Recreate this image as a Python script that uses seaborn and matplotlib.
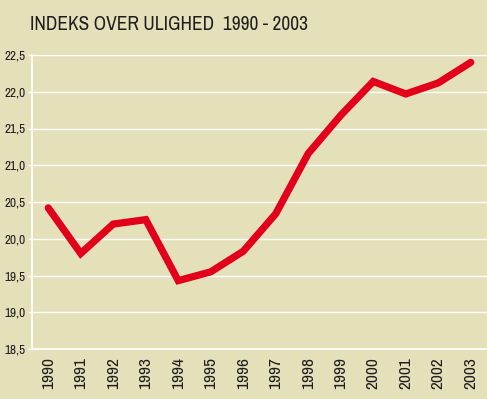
import matplotlib
matplotlib.use('Agg')
import matplotlib.pyplot as plt
import seaborn as sns
import pandas as pd
from matplotlib import font_manager
from matplotlib.ticker import FixedLocator, FuncFormatter

# Data
years = ['1990', '1991', '1992', '1993', '1994', '1995', '1996',
         '1997', '1998', '1999', '2000', '2001', '2002', '2003']
index_values = [20.42, 19.80, 20.20, 20.26, 19.43, 19.55, 19.83,
                20.34, 21.16, 21.68, 22.14, 21.97, 22.12, 22.40]
y_ticks = [18.5, 19.0, 19.5, 20.0, 20.5, 21.0, 21.5, 22.0, 22.5]

bg = '#E4E0BA'
red = '#E2001A'
txt = '#1E1E1E'


# look for a narrow / condensed regular face, the original uses one
def find_condensed():
    found = []
    for f in font_manager.fontManager.ttflist:
        name = (f.name + ' ' + f.fname).lower()
        if ('condensed' in name or 'narrow' in name or f.stretch in ('condensed', 'semi-condensed')) \
                and f.style == 'normal' and 'bold' not in f.fname.lower() and 'mono' not in name:
            found.append(f)
    found.sort(key=lambda f: ('dejavu' in f.fname.lower(), f.fname))
    return found[0].fname if found else None


cond_file = find_condensed()

sns.set_theme(style='white')
plt.rcParams['font.family'] = ['DejaVu Sans']


def fp(size):
    if cond_file:
        return font_manager.FontProperties(fname=cond_file, size=size)
    return font_manager.FontProperties(family='DejaVu Sans', size=size * 0.8)


df = pd.DataFrame({'year': years, 'value': index_values})
df['pos'] = range(len(years))

fig = plt.figure(figsize=(4.87, 3.99), dpi=100)
fig.patch.set_facecolor(bg)
ax = fig.add_axes([32 / 487, 1 - 349 / 399, 1 - 32 / 487, (349 - 55) / 399])
ax.set_facecolor(bg)

sns.lineplot(data=df, x='pos', y='value', color=red, linewidth=5.2,
             solid_joinstyle='miter', ax=ax, zorder=3)

ax.set_xlim(-0.5, len(years) - 0.5)
ax.set_ylim(18.5, 22.5)

# white horizontal grid
ax.set_yticks(y_ticks)
ax.yaxis.set_major_formatter(FuncFormatter(lambda v, p: f'{v:.1f}'.replace('.', ',')))
ax.grid(axis='y', color='white', linewidth=1.0)
ax.grid(axis='x', visible=False)

ax.set_xticks(df['pos'])
ax.set_xticklabels(years, rotation=90)
ax.xaxis.set_minor_locator(FixedLocator([i - 0.5 for i in range(len(years) + 1)]))
ax.tick_params(axis='x', which='major', length=0, pad=6, labelcolor=txt)
ax.tick_params(axis='x', which='minor', length=5, width=1.2, color='white', direction='out')
ax.tick_params(axis='y', which='major', length=3, width=1.0, color='white', pad=1.5,
               labelcolor=txt, left=True)
for lab in ax.get_xticklabels():
    lab.set_fontproperties(fp(12.5))
for lab in ax.get_yticklabels():
    lab.set_fontproperties(fp(9.5))

for side in ['top', 'right']:
    ax.spines[side].set_visible(False)
ax.spines['left'].set_color('white')
ax.spines['left'].set_linewidth(1.2)
ax.spines['bottom'].set_color('white')
ax.spines['bottom'].set_linewidth(1.2)

ax.set_xlabel('')
ax.set_ylabel('')

fig.text(30 / 487, 1 - 25 / 399, 'INDEKS OVER ULIGHED  1990 - 2003',
         fontproperties=fp(14), color=txt, va='center', ha='left')

fig.savefig('out.png', dpi=100, facecolor=bg)
